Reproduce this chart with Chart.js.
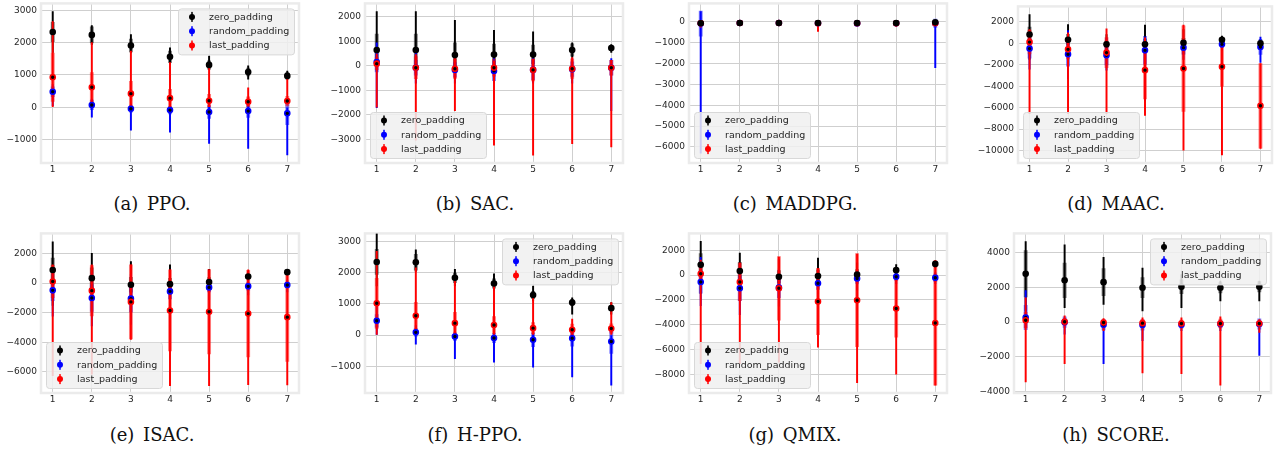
<!DOCTYPE html>
<html>
<head>
<meta charset="utf-8">
<script src="https://cdn.jsdelivr.net/npm/chart.js@4.4.0/dist/chart.umd.min.js"></script>
<style>
  html, body { margin: 0; padding: 0; background: #fff; }
  body { width: 1279px; height: 452px; position: relative; overflow: hidden; }
  canvas { position: absolute; }
  .cap {
    position: absolute; width: 300px; text-align: center;
    font-family: "DejaVu Serif", serif; font-size: 18px; line-height: 18px;
    color: #111; word-spacing: 3px; white-space: nowrap;
  }
</style>
</head>
<body>
<script>
// ==========================
// Données : x = nb de padding (1..7), 3 séries par sous-figure
// mean = point, sd = barre épaisse (mean ± sd), lo/hi = trait fin
// ==========================
const xs = [1, 2, 3, 4, 5, 6, 7];
const seriesNames = ["zero_padding", "random_padding", "last_padding"];

// (a) PPO
const ppoZeroMean = [2330, 2240, 1910, 1560, 1310, 1090, 970];
const ppoZeroSd   = [300, 250, 200, 180, 130, 120, 100];
const ppoZeroLo   = [1700, 1940, 1680, 1330, 1170, 870, 870];
const ppoZeroHi   = [2960, 2530, 2250, 1840, 1580, 1280, 1120];
const ppoRandMean = [480, 70, -50, -90, -150, -120, -190];
const ppoRandSd   = [150, 150, 100, 120, 200, 200, 350];
const ppoRandLo   = [50, -310, -710, -770, -1120, -1280, -1480];
const ppoRandHi   = [700, 250, 100, 100, 150, 100, 0];
const ppoLastMean = [930, 620, 420, 280, 200, 170, 190];
const ppoLastSd   = [750, 450, 380, 270, 200, 150, 150];
const ppoLastLo   = [0, 0, 0, 0, 0, 50, 100];
const ppoLastHi   = [2650, 2000, 1740, 1380, 1230, 600, 940];
const ppoTicks = [-1000, 0, 1000, 2000, 3000];
const ppoRange = [-1728, 3215];

// (b) SAC
const sacZeroMean = [650, 650, 445, 470, 470, 650, 730];
const sacZeroSd   = [650, 650, 500, 420, 380, 250, 100];
const sacZeroLo   = [-200, -300, -200, -100, -200, 350, 550];
const sacZeroHi   = [2220, 2220, 1860, 1450, 1390, 940, 875];
const sacRandMean = [160, -70, -160, -200, -160, -130, -70];
const sacRandSd   = [400, 300, 300, 400, 400, 300, 300];
const sacRandLo   = [-1700, -700, -700, -700, -700, -700, -1820];
const sacRandHi   = [940, 600, 300, 300, 300, 300, 300];
const sacLastMean = [95, -70, -110, -70, -160, -110, -70];
const sacLastSd   = [250, 450, 400, 350, 450, 400, 300];
const sacLastLo   = [-1680, -3030, -1820, -3230, -3640, -3170, -3300];
const sacLastHi   = [500, 470, 340, 200, 270, 340, 230];
const sacTicks = [-3000, -2000, -1000, 0, 1000, 2000];
const sacRange = [-3959, 2554];

// (c) MADDPG
const maddpgZeroMean = [-60, -50, -50, -50, -50, -50, -20];
const maddpgZeroSd   = [40, 20, 20, 20, 20, 20, 60];
const maddpgZeroLo   = [-120, -80, -80, -80, -80, -80, -100];
const maddpgZeroHi   = [20, -20, -20, -20, -20, -20, 80];
const maddpgRandMean = [-80, -50, -50, -60, -70, -60, -60];
const maddpgRandSd   = [600, 20, 20, 20, 50, 50, 200];
const maddpgRandLo   = [-6300, -100, -100, -100, -150, -150, -2200];
const maddpgRandHi   = [500, 0, 0, 0, 0, 0, 50];
const maddpgLastMean = [-60, -50, -50, -60, -60, -60, -60];
const maddpgLastSd   = [100, 20, 20, 80, 30, 80, 50];
const maddpgLastLo   = [-250, -100, -100, -450, -120, -220, -150];
const maddpgLastHi   = [0, 0, 0, 0, 0, 0, 0];
const maddpgTicks = [-6000, -5000, -4000, -3000, -2000, -1000, 0];
const maddpgRange = [-6776, 890];

// (d) MAAC
const maacZeroMean = [830, 340, -90, -90, 60, 340, 0];
const maacZeroSd   = [700, 500, 300, 500, 400, 200, 150];
const maacZeroLo   = [-1500, -500, -500, -1000, -1000, -100, -300];
const maacZeroHi   = [2690, 1760, 830, 1700, 1300, 680, 370];
const maacRandMean = [-490, -1020, -1110, -650, -400, -90, -340];
const maacRandSd   = [900, 1100, 900, 1300, 600, 300, 700];
const maacRandLo   = [-2400, -3330, -2500, -5340, -1500, -700, -1790];
const maacRandHi   = [1000, 1200, 500, 520, 300, 200, 590];
const maacLastMean = [120, -560, -860, -2500, -2350, -2190, -5830];
const maacLastSd   = [1100, 900, 1400, 2700, 4000, 1800, 3950];
const maacLastLo   = [-6570, -6570, -6570, -6730, -9970, -10430, -9810];
const maacLastHi   = [1300, 990, 1360, 520, 1700, 520, -1880];
const maacTicks = [-10000, -8000, -6000, -4000, -2000, 0, 2000];
const maacRange = [-11176, 3454];

// (e) ISAC
const isacZeroMean = [890, 335, -110, -70, 70, 450, 740];
const isacZeroSd   = [800, 700, 500, 400, 300, 150, 100];
const isacZeroLo   = [-1500, -1200, -1000, -800, -500, 200, 550];
const isacZeroHi   = [2790, 2010, 1450, 1230, 940, 780, 890];
const isacRandMean = [-490, -1005, -1050, -560, -290, -220, -130];
const isacRandSd   = [700, 900, 900, 500, 300, 250, 200];
const isacRandLo   = [-2230, -2900, -2790, -1500, -1120, -800, -600];
const isacRandHi   = [800, 700, 600, 300, 300, 200, 200];
const isacLastMean = [110, -510, -1270, -1850, -1940, -2060, -2300];
const isacLastSd   = [1100, 1700, 2500, 2740, 2850, 2930, 3000];
const isacLastLo   = [-6260, -6150, -3800, -6930, -6930, -6860, -6880];
const isacLastHi   = [1230, 1230, 1230, 890, 890, 890, 670];
const isacTicks = [-6000, -4000, -2000, 0, 2000];
const isacRange = [-7428, 3361];

// (f) H-PPO
const hppoZeroMean = [2340, 2330, 1830, 1650, 1280, 1040, 860];
const hppoZeroSd   = [400, 250, 150, 150, 120, 100, 80];
const hppoZeroLo   = [1570, 2040, 1570, 1410, 1090, 670, 670];
const hppoZeroHi   = [3250, 2730, 2100, 1960, 1570, 1190, 1040];
const hppoRandMean = [455, 85, -50, -95, -150, -105, -210];
const hppoRandSd   = [200, 120, 120, 150, 220, 250, 380];
const hppoRandLo   = [0, -290, -760, -870, -1030, -1340, -1610];
const hppoRandHi   = [1000, 300, 100, 100, 50, 50, 0];
const hppoLastMean = [1015, 615, 380, 320, 220, 170, 210];
const hppoLastSd   = [800, 430, 350, 270, 180, 180, 150];
const hppoLastLo   = [0, 0, 0, 0, 0, 0, 0];
const hppoLastHi   = [2680, 2150, 1720, 1570, 1250, 510, 1040];
const hppoTicks = [-1000, 0, 1000, 2000, 3000];
const hppoRange = [-1857, 3254];

// (g) QMIX
const qmixZeroMean = [825, 320, -130, -80, 50, 400, 900];
const qmixZeroSd   = [900, 700, 500, 500, 400, 150, 100];
const qmixZeroLo   = [-1500, -1000, -800, -1000, -800, 0, 600];
const qmixZeroHi   = [2710, 1780, 1250, 1380, 980, 850, 1120];
const qmixRandMean = [-560, -1060, -1010, -660, -270, -130, -210];
const qmixRandSd   = [900, 1000, 800, 500, 400, 300, 300];
const qmixRandLo   = [-2470, -3190, -2500, -1500, -1220, -700, -700];
const qmixRandHi   = [1440, 900, 500, 200, 300, 200, 200];
const qmixLastMean = [110, -560, -1060, -2130, -2020, -2690, -3860];
const qmixLastSd   = [800, 1500, 2560, 2670, 3750, 2300, 5000];
const qmixLastLo   = [-7130, -7130, -7000, -5800, -8670, -7980, -8860];
const qmixLastHi   = [1200, 980, 1460, 530, 1700, -350, 1170];
const qmixTicks = [-8000, -6000, -4000, -2000, 0, 2000];
const qmixRange = [-9492, 3357];

// (h) SCORE
const scoreZeroMean = [2790, 2420, 2310, 1990, 2040, 1990, 2040];
const scoreZeroSd   = [1340, 1000, 780, 580, 400, 300, 300];
const scoreZeroLo   = [650, 840, 1030, 650, 840, 1220, 1220];
const scoreZeroHi   = [4660, 4470, 3740, 3130, 2750, 2370, 2370];
const scoreRandMean = [270, 0, -150, -170, -150, -110, -110];
const scoreRandSd   = [700, 300, 300, 300, 200, 200, 300];
const scoreRandLo   = [-300, -690, -2400, -1070, -500, -500, -1930];
const scoreRandHi   = [1830, 200, 100, 100, 100, 100, 100];
const scoreLastMean = [110, 20, -20, -60, -80, -80, -80];
const scoreLastSd   = [450, 200, 150, 200, 200, 250, 150];
const scoreLastLo   = [-3460, -2400, -500, -2940, -2980, -3650, -600];
const scoreLastHi   = [1410, 360, 200, 250, 250, 300, 150];
const scoreTicks = [-4000, -2000, 0, 2000, 4000];
const scoreRange = [-4097, 5129];

const captions = ["(a) PPO.", "(b) SAC.", "(c) MADDPG.", "(d) MAAC.",
                  "(e) ISAC.", "(f) H-PPO.", "(g) QMIX.", "(h) SCORE."];

// ==========================
// Styles
// ==========================
const seriesColors = ["#000000", "#0000ff", "#ff0000"];
const thickColors = ["rgba(0,0,0,0.5)", "rgba(0,0,255,0.5)", "rgba(255,0,0,0.5)"];
const GRID = "#cfcfcf";
const TXT = "#262626";
const YW = 48, XH = 18, PT = 8, PR = 8;

// position des zones de tracé dans la page [left, top, right, bottom]
const panels = [
  { rect: [41, 2, 299, 163],    legend: "ur", ticks: ppoTicks,    range: ppoRange,
    groups: [[ppoZeroMean, ppoZeroSd, ppoZeroLo, ppoZeroHi], [ppoRandMean, ppoRandSd, ppoRandLo, ppoRandHi], [ppoLastMean, ppoLastSd, ppoLastLo, ppoLastHi]] },
  { rect: [365, 2, 623, 163],   legend: "ll", ticks: sacTicks,    range: sacRange,
    groups: [[sacZeroMean, sacZeroSd, sacZeroLo, sacZeroHi], [sacRandMean, sacRandSd, sacRandLo, sacRandHi], [sacLastMean, sacLastSd, sacLastLo, sacLastHi]] },
  { rect: [689, 2, 947, 163],   legend: "ll", ticks: maddpgTicks, range: maddpgRange,
    groups: [[maddpgZeroMean, maddpgZeroSd, maddpgZeroLo, maddpgZeroHi], [maddpgRandMean, maddpgRandSd, maddpgRandLo, maddpgRandHi], [maddpgLastMean, maddpgLastSd, maddpgLastLo, maddpgLastHi]] },
  { rect: [1018, 5, 1272, 163], legend: "ll", ticks: maacTicks,   range: maacRange,
    groups: [[maacZeroMean, maacZeroSd, maacZeroLo, maacZeroHi], [maacRandMean, maacRandSd, maacRandLo, maacRandHi], [maacLastMean, maacLastSd, maacLastLo, maacLastHi]] },
  { rect: [41, 232, 299, 393],  legend: "ll", ticks: isacTicks,   range: isacRange,
    groups: [[isacZeroMean, isacZeroSd, isacZeroLo, isacZeroHi], [isacRandMean, isacRandSd, isacRandLo, isacRandHi], [isacLastMean, isacLastSd, isacLastLo, isacLastHi]] },
  { rect: [365, 232, 623, 393], legend: "ur", ticks: hppoTicks,   range: hppoRange,
    groups: [[hppoZeroMean, hppoZeroSd, hppoZeroLo, hppoZeroHi], [hppoRandMean, hppoRandSd, hppoRandLo, hppoRandHi], [hppoLastMean, hppoLastSd, hppoLastLo, hppoLastHi]] },
  { rect: [689, 232, 947, 393], legend: "ll", ticks: qmixTicks,   range: qmixRange,
    groups: [[qmixZeroMean, qmixZeroSd, qmixZeroLo, qmixZeroHi], [qmixRandMean, qmixRandSd, qmixRandLo, qmixRandHi], [qmixLastMean, qmixLastSd, qmixLastLo, qmixLastHi]] },
  { rect: [1014, 232, 1271, 393], legend: "ur", ticks: scoreTicks, range: scoreRange,
    groups: [[scoreZeroMean, scoreZeroSd, scoreZeroLo, scoreZeroHi], [scoreRandMean, scoreRandSd, scoreRandLo, scoreRandHi], [scoreLastMean, scoreLastSd, scoreLastLo, scoreLastHi]] }
];
const capCenters = [152, 475, 795, 1116];
const capTops = [195, 426];

// ==========================
// Plugins : cadre + légende dans la zone de tracé
// ==========================
const frameBox = {
  id: "frameBox",
  beforeDatasetsDraw(chart) {
    const { ctx, chartArea: a } = chart;
    ctx.save();
    ctx.strokeStyle = "#ebebeb";
    ctx.lineWidth = 2.5;
    ctx.strokeRect(a.left, a.top, a.right - a.left, a.bottom - a.top);
    ctx.restore();
  }
};

const legendBox = {
  id: "legendBox",
  afterDatasetsDraw(chart, args, opts) {
    const { ctx, chartArea: a } = chart;
    const w = 116, h = 46;
    const x = opts.corner === "ur" ? a.right - 5 - w : a.left + 5;
    const y = opts.corner === "ur" ? a.top + 5 : a.bottom - 5 - h;
    ctx.save();
    ctx.beginPath();
    if (ctx.roundRect) ctx.roundRect(x + 0.5, y + 0.5, w, h, 3);
    else ctx.rect(x + 0.5, y + 0.5, w, h);
    ctx.fillStyle = "rgba(240,240,240,0.85)";
    ctx.fill();
    ctx.strokeStyle = "#d8d8d8";
    ctx.lineWidth = 1;
    ctx.stroke();
    ctx.font = '9.5px "DejaVu Sans"';
    ctx.textBaseline = "middle";
    seriesNames.forEach((name, k) => {
      const cy = y + 8.5 + k * 14.3;
      const mx = x + 14;
      ctx.fillStyle = seriesColors[k];
      ctx.fillRect(mx - 0.75, cy - 5, 1.5, 10);
      ctx.beginPath();
      ctx.arc(mx, cy, 3, 0, Math.PI * 2);
      ctx.fill();
      ctx.fillStyle = TXT;
      ctx.fillText(name, x + 31, cy + 0.5);
    });
    ctx.restore();
  }
};

// ==========================
// Construction des datasets (barres flottantes = barres d'erreur)
// ==========================
function buildDatasets(groups) {
  const sets = [];
  groups.forEach(([mean, sd, lo, hi], k) => {
    const depth = (2 - k) * 2 + 10; // rouge au-dessus, noir en dessous
    sets.push({
      type: "bar", grouped: false, barThickness: 3.2, order: depth + 1,
      backgroundColor: thickColors[k],
      data: xs.map((x, i) => ({ x, y: [mean[i] - sd[i], mean[i] + sd[i]] }))
    });
    sets.push({
      type: "bar", grouped: false, barThickness: 1.3, order: depth,
      backgroundColor: seriesColors[k],
      data: xs.map((x, i) => ({ x, y: [lo[i], hi[i]] }))
    });
    sets.push({
      type: "scatter", order: k === 0 ? 0 : 3 - k,
      pointRadius: k ? 2.5 : 3.3,
      pointBackgroundColor: "#000",
      pointBorderColor: seriesColors[k],
      pointBorderWidth: k ? 1.6 : 0,
      data: xs.map((x, i) => ({ x, y: mean[i] }))
    });
  });
  return sets;
}

const fmt = v => (v < 0 ? "\u2212" + Math.abs(v) : String(v));
const tickFont = { family: "DejaVu Sans", size: 9 };

panels.forEach((p, n) => {
  const [L, T, R, B] = p.rect;
  const cv = document.createElement("canvas");
  cv.width = R - L + YW + PR;
  cv.height = B - T + PT + XH;
  cv.style.width = cv.width + "px";
  cv.style.height = cv.height + "px";
  cv.style.left = (L - YW) + "px";
  cv.style.top = (T - PT) + "px";
  document.body.appendChild(cv);

  new Chart(cv, {
    type: "bar",
    data: { datasets: buildDatasets(p.groups) },
    options: {
      responsive: false,
      animation: false,
      events: [],
      layout: { padding: { top: PT, right: PR, left: 0, bottom: 0 } },
      plugins: {
        legend: { display: false },
        tooltip: { enabled: false },
        legendBox: { corner: p.legend }
      },
      scales: {
        x: {
          type: "linear", min: 0.7, max: 7.3, offset: false,
          afterBuildTicks: s => { s.ticks = xs.map(v => ({ value: v })); },
          afterFit: s => { s.height = XH; },
          grid: { color: GRID, lineWidth: 1, drawTicks: false, offset: false },
          border: { display: false },
          ticks: { font: tickFont, color: TXT, padding: 1, autoSkip: false, maxRotation: 0 }
        },
        y: {
          type: "linear", min: p.range[0], max: p.range[1],
          afterBuildTicks: s => { s.ticks = p.ticks.map(v => ({ value: v })); },
          afterFit: s => { s.width = YW; },
          grid: { color: GRID, lineWidth: 1, drawTicks: false },
          border: { display: false },
          ticks: { font: tickFont, color: TXT, padding: 4, autoSkip: false, callback: fmt }
        }
      }
    },
    plugins: [frameBox, legendBox]
  });

  const cap = document.createElement("div");
  cap.className = "cap";
  cap.textContent = captions[n];
  cap.style.left = (capCenters[n % 4] - 150) + "px";
  cap.style.top = capTops[Math.floor(n / 4)] + "px";
  document.body.appendChild(cap);
});
</script>
</body>
</html>
